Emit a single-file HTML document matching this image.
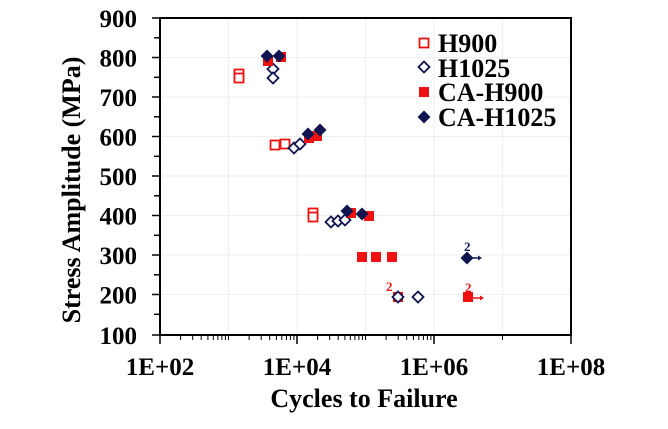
<!DOCTYPE html>
<html><head><meta charset="utf-8"><style>
body{margin:0;background:#fff}
text{font-family:"Liberation Serif",serif;font-weight:bold;fill:#000}
</style></head><body>
<svg width="668" height="424" xmlns="http://www.w3.org/2000/svg">
<g stroke="#eeeeee" stroke-width="1">
<line x1="160" y1="57.5" x2="571" y2="57.5"/><line x1="160" y1="97" x2="571" y2="97"/><line x1="160" y1="136.5" x2="571" y2="136.5"/><line x1="160" y1="176" x2="571" y2="176"/><line x1="160" y1="215.5" x2="571" y2="215.5"/><line x1="160" y1="255" x2="571" y2="255"/><line x1="160" y1="294.5" x2="571" y2="294.5"/>
<line x1="228.5" y1="18" x2="228.5" y2="335"/><line x1="297" y1="18" x2="297" y2="335"/><line x1="365.5" y1="18" x2="365.5" y2="335"/><line x1="434" y1="18" x2="434" y2="335"/><line x1="502.5" y1="18" x2="502.5" y2="335"/>
</g>
<rect x="160" y="18" width="411" height="317" fill="none" stroke="#000" stroke-width="2"/>
<g stroke="#000" stroke-width="1.5">
<line x1="152" y1="18" x2="160" y2="18"/><line x1="154" y1="37.8" x2="160" y2="37.8"/><line x1="152" y1="57.5" x2="160" y2="57.5"/><line x1="154" y1="77.3" x2="160" y2="77.3"/><line x1="152" y1="97" x2="160" y2="97"/><line x1="154" y1="116.8" x2="160" y2="116.8"/><line x1="152" y1="136.5" x2="160" y2="136.5"/><line x1="154" y1="156.3" x2="160" y2="156.3"/><line x1="152" y1="176" x2="160" y2="176"/><line x1="154" y1="195.8" x2="160" y2="195.8"/><line x1="152" y1="215.5" x2="160" y2="215.5"/><line x1="154" y1="235.3" x2="160" y2="235.3"/><line x1="152" y1="255" x2="160" y2="255"/><line x1="154" y1="274.8" x2="160" y2="274.8"/><line x1="152" y1="294.5" x2="160" y2="294.5"/><line x1="154" y1="314.3" x2="160" y2="314.3"/><line x1="152" y1="335" x2="160" y2="335"/>
<line x1="160" y1="335" x2="160" y2="344"/><line x1="297" y1="335" x2="297" y2="344"/><line x1="434" y1="335" x2="434" y2="344"/><line x1="571" y1="335" x2="571" y2="344"/>
</g>
<g stroke="#000" stroke-width="1">
<line x1="180.6" y1="335" x2="180.6" y2="340"/><line x1="192.7" y1="335" x2="192.7" y2="340"/><line x1="201.2" y1="335" x2="201.2" y2="340"/><line x1="207.9" y1="335" x2="207.9" y2="340"/><line x1="213.3" y1="335" x2="213.3" y2="340"/><line x1="217.9" y1="335" x2="217.9" y2="340"/><line x1="221.9" y1="335" x2="221.9" y2="340"/><line x1="225.4" y1="335" x2="225.4" y2="340"/><line x1="228.5" y1="335" x2="228.5" y2="340"/>
<line x1="249.1" y1="335" x2="249.1" y2="340"/><line x1="261.2" y1="335" x2="261.2" y2="340"/><line x1="269.7" y1="335" x2="269.7" y2="340"/><line x1="276.4" y1="335" x2="276.4" y2="340"/><line x1="281.8" y1="335" x2="281.8" y2="340"/><line x1="286.4" y1="335" x2="286.4" y2="340"/><line x1="290.4" y1="335" x2="290.4" y2="340"/><line x1="293.9" y1="335" x2="293.9" y2="340"/>
<line x1="317.6" y1="335" x2="317.6" y2="340"/><line x1="329.7" y1="335" x2="329.7" y2="340"/><line x1="338.2" y1="335" x2="338.2" y2="340"/><line x1="344.9" y1="335" x2="344.9" y2="340"/><line x1="350.3" y1="335" x2="350.3" y2="340"/><line x1="354.9" y1="335" x2="354.9" y2="340"/><line x1="358.9" y1="335" x2="358.9" y2="340"/><line x1="362.4" y1="335" x2="362.4" y2="340"/><line x1="365.5" y1="335" x2="365.5" y2="340"/>
<line x1="386.1" y1="335" x2="386.1" y2="340"/><line x1="398.2" y1="335" x2="398.2" y2="340"/><line x1="406.7" y1="335" x2="406.7" y2="340"/><line x1="413.4" y1="335" x2="413.4" y2="340"/><line x1="418.8" y1="335" x2="418.8" y2="340"/><line x1="423.4" y1="335" x2="423.4" y2="340"/><line x1="427.4" y1="335" x2="427.4" y2="340"/><line x1="430.9" y1="335" x2="430.9" y2="340"/>
<line x1="502.5" y1="335" x2="502.5" y2="340"/>
</g>
<g font-size="25" text-anchor="end">
<text x="137" y="27">900</text><text x="137" y="66.5">800</text><text x="137" y="106">700</text><text x="137" y="145.5">600</text><text x="137" y="185">500</text><text x="137" y="224.5">400</text><text x="137" y="264">300</text><text x="137" y="303.5">200</text><text x="137" y="344">100</text>
</g>
<g font-size="25" text-anchor="middle">
<text x="160" y="375">1E+02</text><text x="297" y="375">1E+04</text><text x="434" y="375">1E+06</text><text x="571" y="375">1E+08</text>
</g>
<g font-size="26" text-anchor="middle">
<text x="364" y="407">Cycles to Failure</text>
<text transform="translate(80,190) rotate(-90)">Stress Amplitude (MPa)</text>
</g>
<defs>
<rect id="os" x="-4.5" y="-4.5" width="9" height="9" fill="#fff" stroke="#ee1111" stroke-width="1.8"/>
<rect id="fs" x="-5" y="-5" width="10" height="10" fill="#ee1111"/>
<path id="od" d="M0,-5.5L5.5,0L0,5.5L-5.5,0Z" fill="#fff" stroke="#0f1550" stroke-width="1.8"/>
<path id="fd" d="M0,-6.5L6.5,0L0,6.5L-6.5,0Z" fill="#0f1550"/>
</defs>
<use href="#os" x="239" y="74"/><use href="#os" x="239" y="78"/><use href="#os" x="275" y="145"/><use href="#os" x="285" y="144"/><use href="#os" x="313" y="213"/><use href="#os" x="313" y="217"/>
<use href="#od" x="273" y="69"/><use href="#od" x="273" y="78"/><use href="#od" x="294" y="148"/><use href="#od" x="300" y="144"/><use href="#od" x="331" y="222"/><use href="#od" x="338" y="221"/><use href="#od" x="345" y="220"/><use href="#od" x="418" y="297"/>
<use href="#fs" x="268" y="61"/><use href="#fs" x="281" y="57"/><use href="#fs" x="309" y="138"/><use href="#fs" x="317" y="136"/><use href="#fs" x="351" y="213"/><use href="#fs" x="369" y="216"/><use href="#fs" x="362" y="257"/><use href="#fs" x="376" y="257"/><use href="#fs" x="392" y="257"/><use href="#fs" x="468" y="297"/><use href="#fs" x="398" y="297"/>
<use href="#od" x="398" y="297"/>
<use href="#fd" x="267" y="56"/><use href="#fd" x="279" y="56"/><use href="#fd" x="308" y="134"/><use href="#fd" x="320" y="130"/><use href="#fd" x="347" y="211"/><use href="#fd" x="362" y="214"/><use href="#fd" x="467" y="258"/>
<g stroke-width="1.5"><line x1="472" y1="258" x2="478" y2="258" stroke="#0f1550"/><line x1="472" y1="298" x2="480" y2="298" stroke="#ee1111"/></g>
<path d="M478,255.5L482,258L478,260.5Z" fill="#0f1550"/><path d="M480,295.5L484,298L480,300.5Z" fill="#ee1111"/>
<g font-size="13"><text x="464" y="251" style="fill:#0f1550">2</text><text x="465" y="292" style="fill:#ee1111">2</text><text x="386" y="291" style="fill:#ee1111">2</text></g>
<use href="#os" x="424" y="43"/><use href="#od" x="424" y="67"/><use href="#fs" x="424" y="92"/><use href="#fd" x="424" y="117"/>
<g font-size="26"><text x="438" y="52">H900</text><text x="438" y="77">H1025</text><text x="438" y="101">CA-H900</text><text x="438" y="126">CA-H1025</text></g>
</svg>
</body></html>
